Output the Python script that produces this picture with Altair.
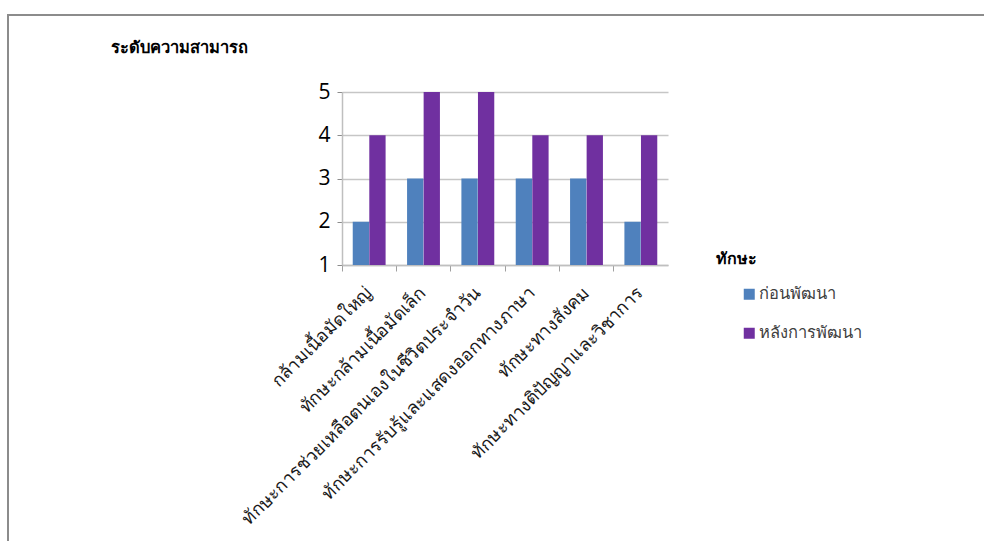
import altair as alt
import pandas as pd

# Skill areas (x categories)
categories = [
    "กล้ามเนื้อมัดใหญ่",
    "ทักษะกล้ามเนื้อมัดเล็ก",
    "ทักษะการช่วยเหลือตนเองในชีวิตประจำวัน",
    "ทักษะการรับรู้และแสดงออกทางภาษา",
    "ทักษะทางสังคม",
    "ทักษะทางติปัญญาและวิชาการ",
]
series = ["ก่อนพัฒนา", "หลังการพัฒนา"]
before = [2, 3, 3, 3, 3, 2]
after = [4, 5, 5, 4, 4, 4]
y_ticks = [1, 2, 3, 4, 5]
colors = ["#4F81BD", "#7030A0"]

rows = []
for c, b, a in zip(categories, before, after):
    rows.append({"skill": c, "group": series[0], "level": b})
    rows.append({"skill": c, "group": series[1], "level": a})
df = pd.DataFrame(rows)

FONT = "Noto Sans"

bars = alt.Chart(df).mark_bar(size=16.3).encode(
    x=alt.X(
        "skill:N",
        sort=categories,
        scale=alt.Scale(paddingInner=0, paddingOuter=0),
        axis=alt.Axis(
            title=None,
            labelAngle=-45,
            labelAlign="right",
            labelBaseline="middle",
            labelFontSize=18,
            labelColor="#1a1a1a",
            labelPadding=19,
            labelLimit=600,
            labelFont=FONT,
            bandPosition=0,
            tickSize=6,
            tickColor="#a0a0a0",
            domainColor="#bfbfbf",
            domainWidth=1.5,
            grid=False,
        ),
    ),
    xOffset=alt.XOffset(
        "group:N",
        sort=series,
        scale=alt.Scale(paddingInner=0, paddingOuter=0.64),
    ),
    y=alt.Y(
        "level:Q",
        scale=alt.Scale(domain=[1, 5], zero=False, nice=False),
        axis=alt.Axis(
            values=y_ticks,
            format="d",
            title="ระดับความสามารถ",
            titleAngle=0,
            titleAlign="left",
            titleBaseline="middle",
            titleX=-232,
            titleY=-45,
            titleFontSize=16.5,
            titleFontWeight="bold",
            titleFont=FONT,
            titleColor="#000000",
            labelFontSize=21,
            labelFont="Open Sans",
            labelColor="#000000",
            labelPadding=7,
            tickSize=5,
            tickColor="#8c8c8c",
            domainColor="#bfbfbf",
            domainWidth=1.5,
            grid=True,
            gridColor="#c6c6c6",
            gridWidth=1.5,
        ),
    ),
    y2=alt.datum(1),
    color=alt.Color(
        "group:N",
        sort=series,
        scale=alt.Scale(domain=series, range=colors),
        legend=alt.Legend(
            title="ทักษะ",
            orient="none",
            legendX=374,
            legendY=159,
            titleFontSize=16,
            titleFontWeight="bold",
            titleFont=FONT,
            titleColor="#000000",
            titlePadding=19,
            labelFontSize=16.5,
            labelFont=FONT,
            labelColor="#404040",
            symbolType="square",
            symbolSize=121,
            symbolStrokeWidth=0,
            symbolOffset=25,
            rowPadding=22,
            labelOffset=1,
        ),
    ),
)

# Outer frame around the whole figure
frame = alt.Chart(alt.Data(values=[{}])).mark_rect(
    fill=None, stroke="#8c8c8c", strokeWidth=2, clip=False
).encode(
    x=alt.value(-334), x2=alt.value(700), y=alt.value(-77), y2=alt.value(500)
)

chart = alt.layer(frame, bars).properties(
    width=326,
    height=173,
    padding={"left": 342, "top": 92, "right": 316, "bottom": 276},
    autosize=alt.AutoSizeParams(type="none"),
    background="white",
).configure_view(stroke=None)

chart.save("out.html", embed_options={"renderer": "svg", "actions": False})
